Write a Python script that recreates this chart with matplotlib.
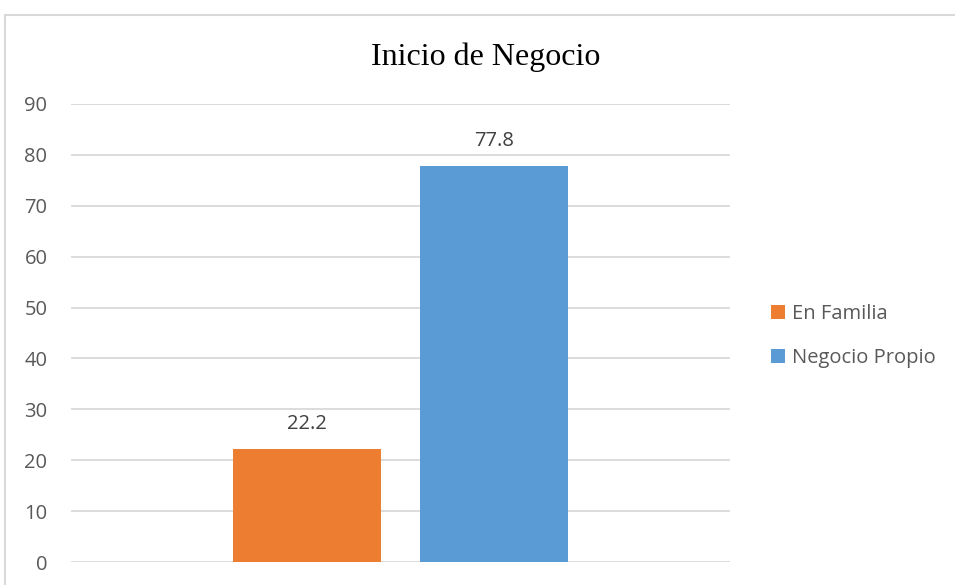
import matplotlib.pyplot as plt
from matplotlib.patches import Rectangle

series = ['En Familia', 'Negocio Propio']
values = [22.2, 77.8]
colors = ['#ED7D31', '#5B9BD5']
yticks = [0, 10, 20, 30, 40, 50, 60, 70, 80, 90]

plt.rcParams['font.family'] = ['Open Sans', 'DejaVu Sans']

fig = plt.figure(figsize=(9.55, 5.85), dpi=100)
ax = fig.add_axes([71 / 955, 23 / 585, 659 / 955, 458 / 585])

# chart area frame (open to the right and bottom like the export)
fig.patches.append(Rectangle((5 / 955, -0.05), 1.05, (585 - 15) / 585 + 0.05,
                             transform=fig.transFigure, fill=False,
                             edgecolor='#D9D9D9', linewidth=1.5))

width = 0.2246
offsets = [-0.1426, 0.1426]
for name, val, col, off in zip(series, values, colors, offsets):
    ax.bar(off, val, width=width, color=col, label=name, zorder=3)
    ax.text(off, val + 3.0, f'{val:.1f}', ha='center', va='bottom',
            fontsize=14.5, color='#404040')

ax.set_xlim(-0.5, 0.5)
ax.set_ylim(0, 90)
ax.set_yticks(yticks)
ax.set_xticks([])
ax.grid(True, axis='y', color='#D9D9D9', linewidth=1.3, zorder=0)
for s in ax.spines.values():
    s.set_visible(False)
ax.tick_params(axis='y', length=0, pad=17, labelsize=14.5, labelcolor='#595959')

fig.text(486 / 955, 1 - 57 / 585, 'Inicio de Negocio', ha='center', va='center',
         fontsize=23, family='Liberation Serif', color='black')

ax.legend(loc='center left', bbox_to_anchor=(753 / 955, 1 - 336 / 585),
          bbox_transform=fig.transFigure, frameon=False, fontsize=14.5,
          labelcolor='#595959', handlelength=0.7, handleheight=0.7,
          handletextpad=0.35, labelspacing=1.2)

fig.savefig('out.png', dpi=100)
